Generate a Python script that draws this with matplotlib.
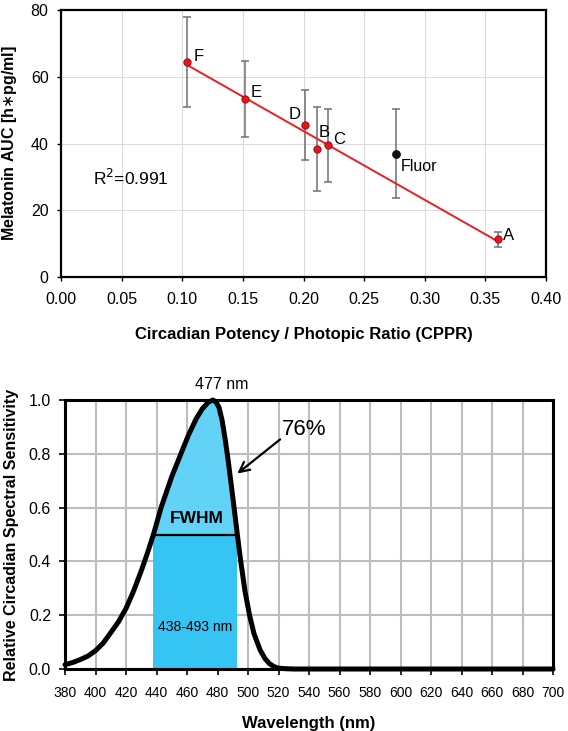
import numpy as np
import matplotlib
matplotlib.use("Agg")
import matplotlib.pyplot as plt

plt.rcParams['font.family'] = ['Liberation Sans', 'DejaVu Sans']

# ---- top panel: melatonin vs CPPR ----
names = ['F', 'E', 'D', 'B', 'C', 'A']
cppr = [0.104, 0.152, 0.201, 0.2115, 0.220, 0.360]
auc = [64.3, 53.3, 45.5, 38.4, 39.6, 11.3]
auc_hi = [77.8, 64.6, 56.0, 51.0, 50.4, 13.5]
auc_lo = [50.8, 41.9, 35.0, 25.8, 28.6, 9.0]
fluor_x = 0.276
fluor_y = 37.0
fluor_hi = 50.2
fluor_lo = 23.8
r2_text = 'R$^2$=0.991'

# ---- bottom panel: circadian spectral sensitivity ----
wl = [380, 385, 390, 395, 400, 405, 410, 415, 420, 425, 430, 434, 438, 443, 450, 456,
      461, 466, 470, 474, 477, 479, 481, 483, 485, 487, 490, 493, 495, 498, 501, 504,
      508, 511, 514, 517, 520, 525, 530, 560, 600, 650, 700]
sens = [0.016, 0.024, 0.035, 0.048, 0.068, 0.096, 0.135, 0.175, 0.225, 0.29, 0.365, 0.43,
        0.50, 0.60, 0.715, 0.80, 0.87, 0.93, 0.967, 0.992, 1.0, 0.993, 0.972, 0.925,
        0.855, 0.775, 0.64, 0.50, 0.41, 0.29, 0.20, 0.13, 0.07, 0.04, 0.02, 0.009, 0.003,
        0.001, 0.0, 0.0, 0.0, 0.0, 0.0]
fwhm_lo, fwhm_hi = 438, 493
peak_wl = 477

fig = plt.figure(figsize=(5.68, 7.31), dpi=100)
W, H = 568, 731
ax1 = fig.add_axes([61 / W, 1 - 277 / H, (546 - 61) / W, (277 - 10) / H])
ax2 = fig.add_axes([65 / W, 1 - 669 / H, (553 - 65) / W, (669 - 400) / H])

# top
ax1.grid(True, color='#dcdcdc', lw=0.8)
ax1.set_axisbelow(True)
slope, icpt = np.polyfit(cppr, auc, 1)
fx = np.array([cppr[0], cppr[-1]])
ax1.plot(fx, slope * fx + icpt, color='#ee1c24', lw=1.4, zorder=3)
yerr = [np.array(auc) - np.array(auc_lo), np.array(auc_hi) - np.array(auc)]
ax1.errorbar(cppr, auc, yerr=yerr, fmt='none', ecolor='#707070', elinewidth=1.1,
             capsize=3, capthick=1.1, zorder=2)
ax1.errorbar([fluor_x], [fluor_y], yerr=[[fluor_y - fluor_lo], [fluor_hi - fluor_y]],
             fmt='none', ecolor='#707070', elinewidth=1.1, capsize=3, capthick=1.1, zorder=2)
ax1.scatter(cppr, auc, s=28, color='#e8141c', edgecolor='#8a0a0a', lw=0.6, zorder=4)
ax1.scatter([fluor_x], [fluor_y], s=28, color='#111111', zorder=4)
offs = {'F': (5, 4.5), 'E': (4, 5), 'D': (-3, 8), 'B': (1, 12), 'C': (4, 3.6), 'A': (4, 2.4)}
for n, x, y in zip(names, cppr, auc):
    ax1.annotate(n, (x, y), xytext=offs[n], textcoords='offset points', fontsize=12,
                 va='center', ha='right' if n == 'D' else 'left')
ax1.annotate('Fluor', (fluor_x, fluor_y), xytext=(4, -9.6), textcoords='offset points',
             fontsize=11.5, va='center', ha='left')
ax1.text(0.026, 29.6, r2_text, fontsize=12.5, va='center', ha='left')
ax1.set_xlim(0, 0.40)
ax1.set_ylim(0, 80)
ax1.set_xticks(np.arange(0, 0.41, 0.05))
ax1.set_xticklabels([f'{v:.2f}' for v in np.arange(0, 0.41, 0.05)])
ax1.set_yticks(np.arange(0, 81, 20))
ax1.tick_params(labelsize=11.5, length=3, width=1, direction='out')
ax1.tick_params(axis='x', pad=8)
ax1.tick_params(axis='y', pad=6)
for s in ax1.spines.values():
    s.set_linewidth(1.6)
ax1.set_xlabel('Circadian Potency / Photopic Ratio (CPPR)', fontsize=12,
               fontweight='bold', labelpad=14)
ax1.set_ylabel('Melatonin AUC [h$\\ast$pg/ml]', fontsize=11.5, fontweight='bold')
ax1.yaxis.set_label_coords((19.5 - 61) / 485, 0.5)

# bottom
ax2.grid(True, color='#bdbdbd', lw=1.5)
ax2.set_axisbelow(True)
wl_a = np.array(wl)
sens_a = np.array(sens)
ax2.fill_between([fwhm_lo, fwhm_hi], 0, 0.5, color='#36c5f2', lw=0, zorder=1)
m = (wl_a >= fwhm_lo) & (wl_a <= fwhm_hi)
ax2.fill_between(wl_a[m], 0.5, sens_a[m], color='#62d2f6', lw=0, zorder=1)
ax2.plot([fwhm_lo, fwhm_hi], [0.5, 0.5], color='black', lw=1.6, zorder=3)
ax2.plot(wl_a, sens_a, color='black', lw=3.6, solid_joinstyle='round',
         solid_capstyle='round', zorder=4, clip_on=False)
ax2.text(482.6, 1.056, f'{peak_wl} nm', fontsize=11.5, ha='center', va='center')
ax2.text(466.5, 0.56, 'FWHM', fontsize=12.5, fontweight='bold', ha='center', va='center')
ax2.text(465, 0.157, f'{fwhm_lo}-{fwhm_hi} nm', fontsize=10, ha='center', va='center')
ax2.annotate('', xy=(491.6, 0.72), xytext=(522.5, 0.86),
             arrowprops=dict(arrowstyle='->', color='black', lw=1.6, mutation_scale=18))
ax2.text(536.7, 0.89, '76%', fontsize=16, ha='center', va='center')
ax2.set_xlim(380, 700)
ax2.set_ylim(0, 1.0)
ax2.set_xticks(np.arange(380, 701, 20))
ax2.set_yticks(np.arange(0, 1.01, 0.2))
ax2.set_yticklabels([f'{v:.1f}' for v in np.arange(0, 1.01, 0.2)])
ax2.tick_params(axis='x', labelsize=10, length=4, width=1.2, pad=8)
ax2.tick_params(axis='y', labelsize=11.5, length=4, width=1.2, pad=6)
for s in ax2.spines.values():
    s.set_linewidth(2.2)
ax2.set_xlabel('Wavelength (nm)', fontsize=12, fontweight='bold', labelpad=12)
ax2.set_ylabel('Relative Circadian Spectral Sensitivity', fontsize=11.5, fontweight='bold')
ax2.yaxis.set_label_coords((19 - 65) / 488, 0.5)

fig.savefig('out.png', dpi=100)
